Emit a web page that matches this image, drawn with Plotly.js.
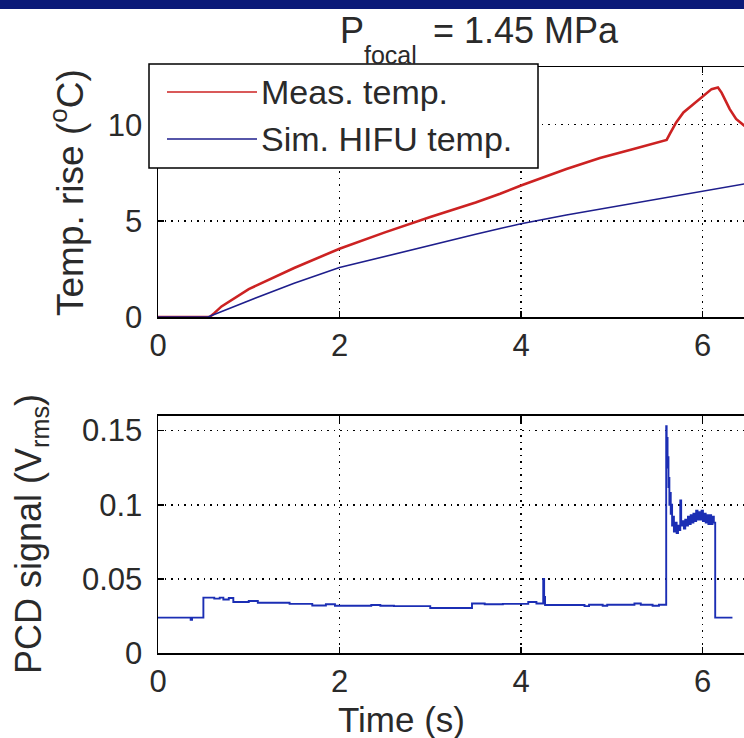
<!DOCTYPE html>
<html>
<head>
<meta charset="utf-8">
<script src="https://cdn.plot.ly/plotly-3.0.1.min.js"></script>
<style>
html,body{margin:0;padding:0;overflow:hidden;background:#fff;}
#chart{width:900px;height:738px;}
</style>
</head>
<body>
<div id="chart"></div>
<script>
// ---- data ----
const measTime = [0, 0.57, 0.62, 0.7, 1.0, 1.5, 2.0, 2.5, 3.0, 3.5, 3.77, 4.0, 4.5, 4.87, 5.24, 5.57, 5.605, 5.64, 5.71, 5.79, 5.90, 6.01, 6.10, 6.17, 6.21, 6.30, 6.37, 6.46, 6.55];
const measTemp = [0, 0, 0.2, 0.55, 1.45, 2.55, 3.55, 4.4, 5.2, 5.95, 6.41, 6.84, 7.70, 8.27, 8.74, 9.17, 9.21, 9.52, 10.12, 10.64, 11.07, 11.5, 11.85, 11.93, 11.67, 10.81, 10.3, 9.95, 9.7];

const simTime = [0, 0.55, 1.0, 1.5, 2.0, 2.5, 3.0, 3.5, 3.77, 4.0, 4.5, 5.0, 5.5, 6.0, 6.46, 6.55];
const simTemp = [0, 0, 0.85, 1.75, 2.57, 3.15, 3.75, 4.3, 4.6, 4.85, 5.3, 5.72, 6.15, 6.55, 6.92, 6.98];

const pcdTime = [0, 0.36, 0.375, 0.50, 0.62, 0.68, 0.72, 0.78, 0.83, 1.0, 1.1, 1.45, 1.70, 1.85, 1.95, 2.35, 2.45, 2.6, 3.0, 3.46, 3.6, 3.8, 4.08, 4.17, 4.245, 4.255, 4.265, 4.7, 4.75, 4.9, 4.95, 5.25, 5.32, 5.45, 5.52,
  5.600, 5.605, 5.610, 5.615, 5.620, 5.625, 5.630, 5.635, 5.640, 5.650, 5.655, 5.665, 5.675, 5.685, 5.700, 5.715, 5.730, 5.745, 5.755, 5.765, 5.780, 5.795, 5.810, 5.825, 5.840, 5.855, 5.870, 5.885, 5.900, 5.915, 5.930, 5.945, 5.960, 5.975, 5.990, 6.005, 6.020, 6.035, 6.050, 6.065, 6.080, 6.095, 6.110, 6.125, 6.140, 6.330];
const pcdSignal = [0.024, 0.0225, 0.024, 0.0375, 0.0368, 0.0375, 0.0362, 0.0372, 0.0345, 0.0352, 0.0340, 0.0333, 0.0322, 0.0330, 0.0320, 0.0325, 0.0320, 0.0318, 0.0305, 0.0335, 0.0330, 0.0333, 0.0345, 0.0335, 0.050, 0.038, 0.0325, 0.0318, 0.0327, 0.0320, 0.0327, 0.0335, 0.0327, 0.0320, 0.0327,
  0.153, 0.135, 0.145, 0.125, 0.132, 0.112, 0.118, 0.100, 0.108, 0.094, 0.100, 0.086, 0.092, 0.082, 0.088, 0.081, 0.086, 0.083, 0.103, 0.086, 0.089, 0.084, 0.090, 0.086, 0.092, 0.087, 0.093, 0.088, 0.094, 0.089, 0.096, 0.090, 0.095, 0.090, 0.096, 0.089, 0.094, 0.088, 0.093, 0.087, 0.093, 0.087, 0.092, 0.088, 0.024, 0.024];

const xTickVals = [0, 2, 4, 6];
const xTickText = ['0', '2', '4', '6'];
const tempTickVals = [0, 5, 10];
const tempTickText = ['0', '5', '10'];
const pcdTickVals = [0, 0.05, 0.1, 0.15];
const pcdTickText = ['0', '0.05', '0.1', '0.15'];

const legendLabels = ['Meas. temp.', 'Sim. HIFU temp.'];
const titleMain = 'P';
const titleSub = 'focal';
const titleRest = '= 1.45 MPa';

// ---- layout helpers (pixel -> paper) ----
const W = 900, H = 738;
const px = x => x / W;
const py = y => 1 - y / H;
const FONT = 'Liberation Sans, Arial, Helvetica, sans-serif';
const TXT = '#2a2a2a';
const RED = '#cc2222', NAVY = '#1e1e8c', PCDBLUE = '#1b2eb4';

const axisCommon = {
  showline: true, linecolor: '#000', linewidth: 1.5, mirror: 'ticks',
  ticks: 'inside', ticklen: 6, tickwidth: 1.5, tickcolor: '#000',
  showgrid: true, gridcolor: '#000', gridwidth: 1.5, griddash: '1.5px,5px',
  zeroline: false,
  tickfont: {family: FONT, size: 31, color: TXT}
};

const traces = [
  {x: measTime, y: measTemp, type: 'scatter', mode: 'lines', name: legendLabels[0],
   line: {color: RED, width: 2.6}, xaxis: 'x', yaxis: 'y', showlegend: false},
  {x: simTime, y: simTemp, type: 'scatter', mode: 'lines', name: legendLabels[1],
   line: {color: NAVY, width: 1.6}, xaxis: 'x', yaxis: 'y', showlegend: false},
  {x: pcdTime, y: pcdSignal, type: 'scatter', mode: 'lines', name: 'PCD',
   line: {color: PCDBLUE, width: 1.9, shape: 'hv'}, xaxis: 'x2', yaxis: 'y2', showlegend: false}
];

const layout = {
  width: W, height: H,
  margin: {l: 0, r: 0, t: 0, b: 0},
  paper_bgcolor: '#fff', plot_bgcolor: '#fff',
  showlegend: false,
  xaxis: Object.assign({}, axisCommon, {domain: [px(158), px(884)], range: [0, 8], anchor: 'y',
    tickvals: xTickVals, ticktext: xTickText, ticklabelstandoff: 0}),
  yaxis: Object.assign({}, axisCommon, {domain: [py(317), py(67)], range: [0, 13], anchor: 'x',
    tickvals: tempTickVals, ticktext: tempTickText, ticklabelstandoff: 8}),
  xaxis2: Object.assign({}, axisCommon, {domain: [px(158), px(884)], range: [0, 8], anchor: 'y2',
    tickvals: xTickVals, ticktext: xTickText, ticklabelstandoff: 0}),
  yaxis2: Object.assign({}, axisCommon, {domain: [py(653.3), py(415.7)], range: [0, 0.16], anchor: 'x2',
    tickvals: pcdTickVals, ticktext: pcdTickText, ticklabelstandoff: 8}),
  shapes: [
    // slide header band
    {type: 'rect', xref: 'paper', yref: 'paper', x0: 0, x1: 1, y0: py(9), y1: 1,
     fillcolor: '#0b1a78', line: {width: 0}, layer: 'above'},
    // legend box
    {type: 'rect', xref: 'paper', yref: 'paper', x0: px(149), x1: px(538), y0: py(168), y1: py(64),
     fillcolor: '#fff', line: {color: '#000', width: 1.5}, layer: 'above'},
    {type: 'line', xref: 'paper', yref: 'paper', x0: px(167), x1: px(257), y0: py(92), y1: py(92),
     line: {color: RED, width: 1.6}, layer: 'above'},
    {type: 'line', xref: 'paper', yref: 'paper', x0: px(167), x1: px(257), y0: py(139), y1: py(139),
     line: {color: NAVY, width: 1.6}, layer: 'above'}
  ],
  annotations: [
    {text: titleMain, xref: 'paper', yref: 'paper', x: px(338), y: py(8), xanchor: 'left', yanchor: 'top',
     showarrow: false, font: {family: FONT, size: 36, color: TXT}},
    {text: titleSub, xref: 'paper', yref: 'paper', x: px(362), y: py(39), xanchor: 'left', yanchor: 'top',
     showarrow: false, font: {family: FONT, size: 25, color: TXT}},
    {text: titleRest, xref: 'paper', yref: 'paper', x: px(431), y: py(8), xanchor: 'left', yanchor: 'top',
     showarrow: false, font: {family: FONT, size: 36, color: TXT}},
    {text: legendLabels[0], xref: 'paper', yref: 'paper', x: px(259), y: py(92), xanchor: 'left', yanchor: 'middle',
     showarrow: false, font: {family: FONT, size: 34, color: TXT}},
    {text: legendLabels[1], xref: 'paper', yref: 'paper', x: px(259), y: py(139), xanchor: 'left', yanchor: 'middle',
     showarrow: false, font: {family: FONT, size: 34, color: TXT}},
    {text: 'Temp. rise (<sup>o</sup>C)', xref: 'paper', yref: 'paper', x: px(67), y: py(193), textangle: -90,
     xanchor: 'center', yanchor: 'middle', showarrow: false, font: {family: FONT, size: 37, color: TXT}},
    {text: 'PCD signal (V<sub>rms</sub>)', xref: 'paper', yref: 'paper', x: px(31), y: py(534), textangle: -90,
     xanchor: 'center', yanchor: 'middle', showarrow: false, font: {family: FONT, size: 36, color: TXT}},
    {text: 'Time (s)', xref: 'paper', yref: 'paper', x: px(401), y: py(719),
     xanchor: 'center', yanchor: 'middle', showarrow: false, font: {family: FONT, size: 35, color: TXT}}
  ]
};

Plotly.newPlot('chart', traces, layout, {displayModeBar: false, staticPlot: true});
</script>
</body>
</html>
